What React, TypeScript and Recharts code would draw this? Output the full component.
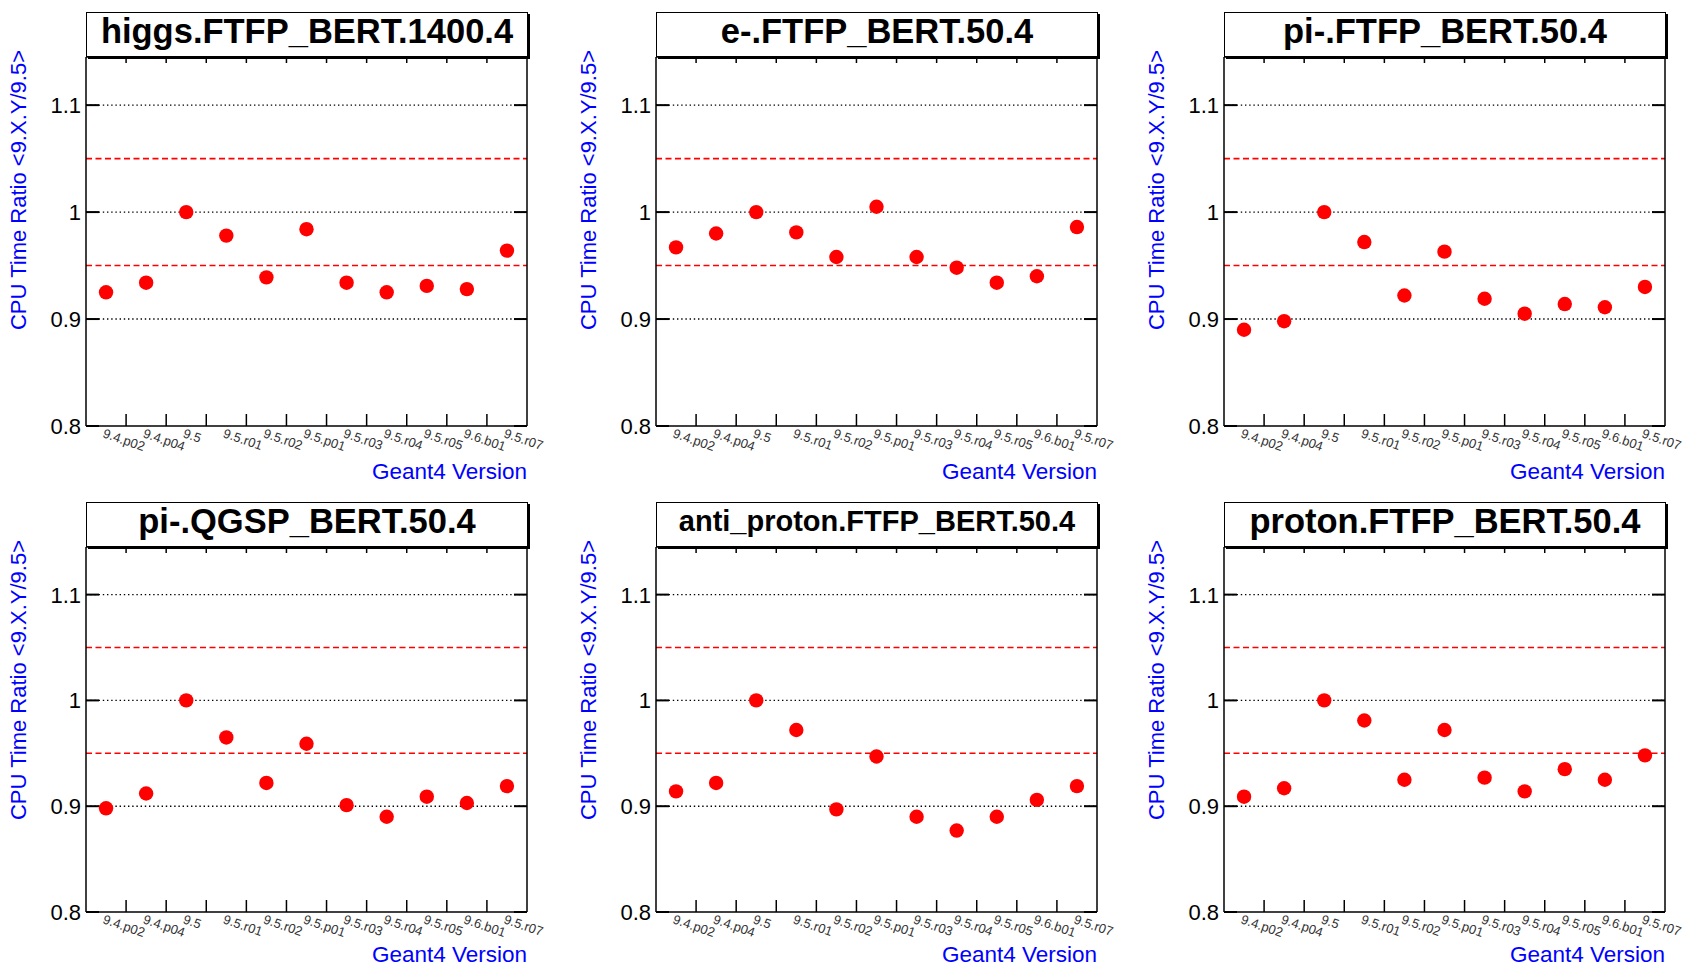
import React from 'react';
import { ScatterChart, Scatter, XAxis, YAxis, ReferenceLine, Label } from 'recharts';

// Geant4 versions on the x axis
const versions = ['9.4.p02', '9.4.p04', '9.5', '9.5.r01', '9.5.r02', '9.5.p01', '9.5.r03', '9.5.r04', '9.5.r05', '9.6.b01', '9.5.r07'];

// CPU time ratio <9.X.Y/9.5>, one list per panel
const higgsRatio = [0.925, 0.934, 1.0, 0.978, 0.939, 0.984, 0.934, 0.925, 0.931, 0.928, 0.964];
const electronRatio = [0.967, 0.98, 1.0, 0.981, 0.958, 1.005, 0.958, 0.948, 0.934, 0.94, 0.986];
const pionFtfpRatio = [0.89, 0.898, 1.0, 0.972, 0.922, 0.963, 0.919, 0.905, 0.914, 0.911, 0.93];
const pionQgspRatio = [0.898, 0.912, 1.0, 0.965, 0.922, 0.959, 0.901, 0.89, 0.909, 0.903, 0.919];
const antiProtonRatio = [0.914, 0.922, 1.0, 0.972, 0.897, 0.947, 0.89, 0.877, 0.89, 0.906, 0.919];
const protonRatio = [0.909, 0.917, 1.0, 0.981, 0.925, 0.972, 0.927, 0.914, 0.935, 0.925, 0.948];

const titles = [
  'higgs.FTFP_BERT.1400.4',
  'e-.FTFP_BERT.50.4',
  'pi-.FTFP_BERT.50.4',
  'pi-.QGSP_BERT.50.4',
  'anti_proton.FTFP_BERT.50.4',
  'proton.FTFP_BERT.50.4',
];
const series = [higgsRatio, electronRatio, pionFtfpRatio, pionQgspRatio, antiProtonRatio, protonRatio];

const yTicks = [0.8, 0.9, 1.0, 1.1];
const gridLevels = [0.9, 1.0, 1.1];
const bandLevels = [0.95, 1.05];
const Y_DOMAIN: [number, number] = [0.8, 1.145];

const FONT = '"Liberation Sans", Arial, sans-serif';
const LEFT_W = 86;
const RIGHT_W = 30;
const TOP_H = 57;
const PLOT_W = 441;

const colLeft = [0, 570, 1138];
const rowTop = [0, 490];
const rowPlotH = [369, 365];
const rowBottomH = [58, 56];
const rowXTitleDy = [53, 50];

const Panel = ({ title, values, left, top, plotH, bottomH, xTitleDy, titleSize }: any) => {
  const rows = versions.map((v, i) => ({ version: v, ratio: values[i] }));
  const bw = PLOT_W / versions.length;
  const width = LEFT_W + PLOT_W + RIGHT_W;
  const height = TOP_H + plotH + bottomH;

  const bottomTick = (p: any) => {
    const tx = p.x - 4;
    const ty = p.y + 11;
    return (
      <g>
        {p.index > 0 && (
          <line x1={p.x - bw / 2} x2={p.x - bw / 2} y1={p.y} y2={p.y - 12} stroke="#000" strokeWidth={1.5} />
        )}
        <text x={tx} y={ty} fontSize={13} fill="#333" fontFamily={FONT} transform={`rotate(19 ${tx} ${ty})`}>
          {p.payload.value}
        </text>
      </g>
    );
  };

  const topTick = (p: any) =>
    p.index > 0 ? (
      <line x1={p.x - bw / 2} x2={p.x - bw / 2} y1={p.y} y2={p.y + 6} stroke="#000" strokeWidth={1.5} />
    ) : (
      <g />
    );

  const leftTick = (p: any) => (
    <g>
      <line x1={p.x} x2={p.x + 13} y1={p.y} y2={p.y} stroke="#000" strokeWidth={2} />
      <text x={p.x - 5} y={p.y} dy={8} textAnchor="end" fontSize={22} fill="#000" fontFamily={FONT}>
        {p.payload.value === 1 ? '1' : String(p.payload.value)}
      </text>
    </g>
  );

  const rightTick = (p: any) => (
    <line x1={p.x - 13} x2={p.x} y1={p.y} y2={p.y} stroke="#000" strokeWidth={2} />
  );

  const yTitle = () => {
    const lx = 26;
    const ly = TOP_H - 7;
    return (
      <text x={lx} y={ly} transform={`rotate(-90 ${lx} ${ly})`} textAnchor="end" fontSize={22} fill="#0000ff" fontFamily={FONT}>
        {'CPU Time Ratio <9.X.Y/9.5>'}
      </text>
    );
  };

  const xTitle = () => (
    <text x={LEFT_W + PLOT_W} y={TOP_H + plotH + xTitleDy} textAnchor="end" fontSize={22.5} fill="#0000ff" fontFamily={FONT}>
      Geant4 Version
    </text>
  );

  return (
    <div style={{ position: 'absolute', left, top, width, height }}>
      <ScatterChart width={width} height={height} data={rows} margin={{ top: 0, right: 0, bottom: 0, left: 0 }}>
        <XAxis
          xAxisId="bottom"
          dataKey="version"
          type="category"
          scale="band"
          allowDuplicatedCategory={false}
          height={bottomH}
          interval={0}
          tickSize={0}
          tickMargin={0}
          tick={bottomTick}
          axisLine={{ stroke: '#000', strokeWidth: 1.5 }}
          tickLine={false}
        >
          <Label content={xTitle} />
        </XAxis>
        <XAxis
          xAxisId="top"
          orientation="top"
          dataKey="version"
          type="category"
          scale="band"
          allowDuplicatedCategory={false}
          height={TOP_H}
          interval={0}
          tickSize={0}
          tickMargin={0}
          tick={topTick}
          axisLine={{ stroke: '#000', strokeWidth: 1.5 }}
          tickLine={false}
        />
        <YAxis
          yAxisId="left"
          dataKey="ratio"
          type="number"
          domain={Y_DOMAIN}
          allowDataOverflow
          ticks={yTicks}
          width={LEFT_W}
          tickSize={0}
          tickMargin={0}
          tick={leftTick}
          axisLine={{ stroke: '#000', strokeWidth: 1.5 }}
          tickLine={false}
        >
          <Label content={yTitle} />
        </YAxis>
        <YAxis
          yAxisId="right"
          orientation="right"
          dataKey="ratio"
          type="number"
          domain={Y_DOMAIN}
          allowDataOverflow
          ticks={yTicks}
          width={RIGHT_W}
          tickSize={0}
          tickMargin={0}
          tick={rightTick}
          axisLine={{ stroke: '#000', strokeWidth: 1.5 }}
          tickLine={false}
        />
        {gridLevels.map((v) => (
          <ReferenceLine key={`g${v}`} xAxisId="bottom" yAxisId="left" y={v} stroke="#000" strokeWidth={1.4} strokeDasharray="1.4 2.8" />
        ))}
        {bandLevels.map((v) => (
          <ReferenceLine key={`b${v}`} xAxisId="bottom" yAxisId="left" y={v} stroke="#ff0000" strokeWidth={1.6} strokeDasharray="6 3.5" />
        ))}
        <Scatter
          xAxisId="bottom"
          yAxisId="left"
          data={rows}
          dataKey="ratio"
          isAnimationActive={false}
          shape={(p: any) => <circle cx={p.cx} cy={p.cy} r={7.2} fill="#ff0000" />}
        />
      </ScatterChart>
      <div
        style={{
          position: 'absolute',
          left: LEFT_W,
          top: 12,
          width: PLOT_W + 1,
          height: 45,
          boxSizing: 'border-box',
          border: '1.5px solid #000',
          boxShadow: '2px 2px 0 #000',
          background: '#fff',
          display: 'flex',
          alignItems: 'center',
          justifyContent: 'center',
          paddingBottom: 6,
          fontFamily: FONT,
          fontWeight: 'bold',
          fontSize: titleSize,
          lineHeight: 1,
          color: '#000',
        }}
      >
        {title}
      </div>
    </div>
  );
};

export default function App() {
  return (
    <div
      style={{
        position: 'absolute',
        left: 0,
        top: 0,
        width: 1684,
        height: 968,
        overflow: 'hidden',
        background: '#fff',
        fontFamily: FONT,
      }}
    >
      {titles.map((t, i) => {
        const row = Math.floor(i / 3);
        const col = i % 3;
        return (
          <Panel
            key={t}
            title={t}
            values={series[i]}
            left={colLeft[col]}
            top={rowTop[row]}
            plotH={rowPlotH[row]}
            bottomH={rowBottomH[row]}
            xTitleDy={rowXTitleDy[row]}
            titleSize={t.startsWith('anti') ? 29 : 34.5}
          />
        );
      })}
    </div>
  );
}
